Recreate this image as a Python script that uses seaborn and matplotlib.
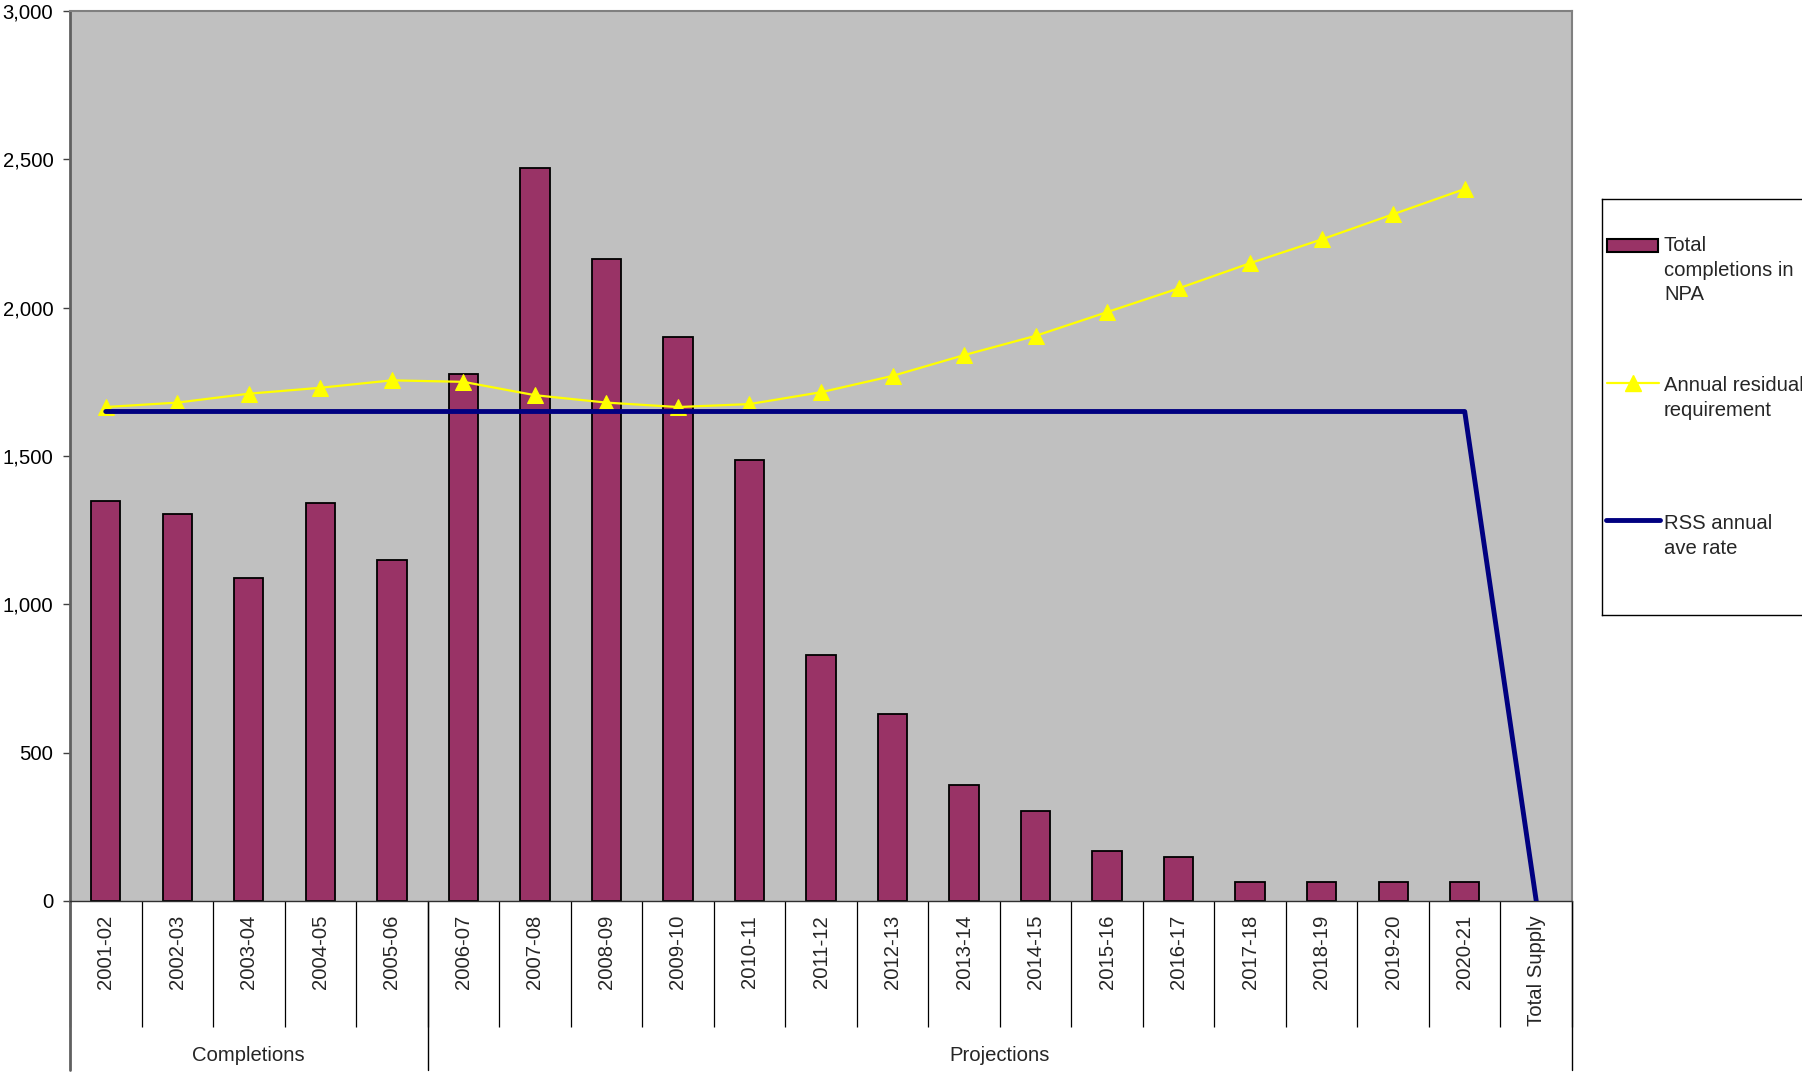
import numpy as np
import pandas as pd
import matplotlib
matplotlib.use("Agg")
import matplotlib.pyplot as plt
from matplotlib.ticker import FuncFormatter
from matplotlib.patches import Rectangle
from matplotlib.lines import Line2D
import seaborn as sns

categories = ["2001-02", "2002-03", "2003-04", "2004-05", "2005-06", "2006-07",
              "2007-08", "2008-09", "2009-10", "2010-11", "2011-12", "2012-13",
              "2013-14", "2014-15", "2015-16", "2016-17", "2017-18", "2018-19",
              "2019-20", "2020-21", "Total Supply"]
completions = [1350, 1305, 1090, 1340, 1150, 1775, 2470, 2165, 1900, 1485, 830,
               630, 390, 305, 170, 150, 65, 65, 65, 65, np.nan]
residual = [1665, 1680, 1710, 1730, 1755, 1750, 1705, 1680, 1665, 1675, 1715,
            1770, 1840, 1905, 1985, 2065, 2150, 2230, 2315, 2400, np.nan]
rss_rate = [1650] * 20 + [0]
groups = ["Completions", "Projections"]
group_sizes = [5, 16]
legend_labels = ["Total\ncompletions in\nNPA", "Annual residual\nrequirement",
                 "RSS annual\nave rate"]

sns.set_style("white")
plt.rcParams["font.family"] = ["Liberation Sans", "DejaVu Sans"]

bar_color = "#993366"
fs = 14.6

df = pd.DataFrame({"period": categories, "completions": completions})
x_idx = np.arange(len(categories))

fig = plt.figure(figsize=(18.02, 10.72), dpi=100)
ax = fig.add_axes([70 / 1802, 1 - 901 / 1072, 1502 / 1802, 890 / 1072])
ax.set_facecolor("#C0C0C0")

sns.barplot(data=df, x="period", y="completions", order=categories, ax=ax,
            color=bar_color, saturation=1, width=0.41, edgecolor="black",
            linewidth=1.3, zorder=2)
sns.lineplot(x=x_idx, y=residual, ax=ax, color="#FFFF00", linewidth=1.6,
             marker="^", markersize=11.5, markeredgecolor="#FFFF00", zorder=3)
sns.lineplot(x=x_idx, y=rss_rate, ax=ax, color="#000080", linewidth=3.5, zorder=4)

ax.set_xlim(-0.5, len(categories) - 0.5)
ax.set_ylim(0, 3000)
ax.set_yticks(np.arange(0, 3001, 500))
ax.yaxis.set_major_formatter(FuncFormatter(lambda v, p: f"{int(v):,}"))
ax.set_xlabel("")
ax.set_ylabel("")

ax.tick_params(axis="y", left=True, length=5, width=1, color="#404040",
               pad=7, labelsize=fs, labelcolor="black")
ax.set_xticks(x_idx)
ax.set_xticklabels(categories, rotation=90, va="top", ha="center")
ax.tick_params(axis="x", which="major", length=0, pad=10, labelsize=fs)
ax.set_xticks(np.arange(-0.5, len(categories), 1.0), minor=True)
ax.tick_params(axis="x", which="minor", bottom=True, length=91, width=0.9,
               color="black")

for side in ["top", "right"]:
    ax.spines[side].set_color("#808080")
    ax.spines[side].set_linewidth(1.5)
ax.spines["left"].set_color("#606060")
ax.spines["left"].set_linewidth(2)
ax.spines["bottom"].set_color("#303030")
ax.spines["bottom"].set_linewidth(1)

# group separators and labels below the category axis
trans = ax.get_xaxis_transform()
bounds = np.concatenate([[0], np.cumsum(group_sizes)]) - 0.5
for b in bounds:
    ax.plot([b, b], [0, -0.19], transform=trans, color="black" if b > 0 else "#606060",
            linewidth=1 if b > 0 else 2, clip_on=False)
for g, lo, hi in zip(groups, bounds[:-1], bounds[1:]):
    ax.text((lo + hi) / 2, -0.174, g, transform=trans, ha="center", va="center",
            fontsize=fs)

# legend box
lax = fig.add_axes([1602 / 1802, 1 - 615 / 1072, 212 / 1802, 416 / 1072])
lax.set_xlim(0, 212)
lax.set_ylim(416, 0)
lax.set_xticks([])
lax.set_yticks([])
for s in lax.spines.values():
    s.set_color("black")
    s.set_linewidth(1)
lax.add_patch(Rectangle((5, 40), 51, 13, facecolor=bar_color, edgecolor="black",
                        linewidth=1.5))
lax.add_line(Line2D([5, 57], [184, 184], color="#FFFF00", linewidth=1.6))
lax.plot([31], [184], marker="^", markersize=11.5, color="#FFFF00")
lax.add_line(Line2D([4, 58], [321, 321], color="#000080", linewidth=3.5))
for lbl, yt in zip(legend_labels, [37, 177, 315]):
    lax.text(62, yt, lbl, fontsize=fs, va="top", ha="left", linespacing=1.37)

fig.savefig("out.png", dpi=100)
